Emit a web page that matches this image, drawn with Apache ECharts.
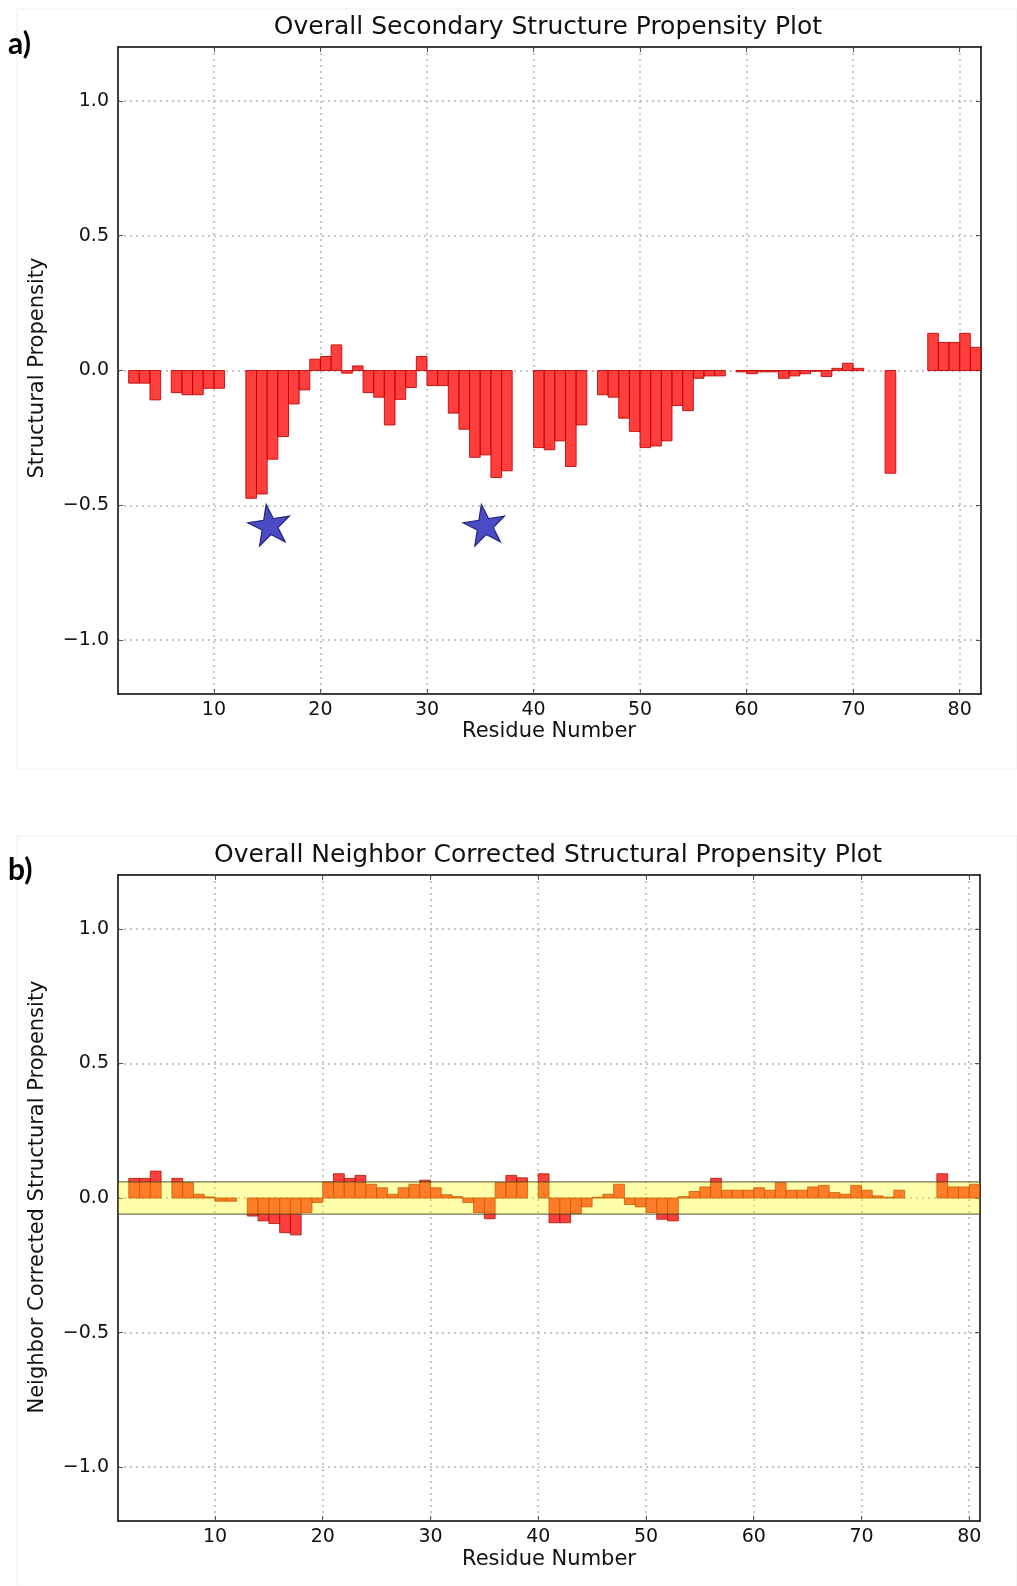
<!DOCTYPE html>
<html>
<head>
<meta charset="utf-8">
<script src="https://cdn.jsdelivr.net/npm/echarts@6/dist/echarts.min.js"></script>
<style>
html,body{margin:0;padding:0;background:#fff;}
#chart{width:1017px;height:1586px;}
</style>
</head>
<body>
<div id="chart"></div>
<script>
// ---------- Data ----------
const titleA = 'Overall Secondary Structure Propensity Plot';
const titleB = 'Overall Neighbor Corrected Structural Propensity Plot';
const xLabel = 'Residue Number';
const yLabelA = 'Structural Propensity';
const yLabelB = 'Neighbor Corrected Structural Propensity';

const xTicks = [10, 20, 30, 40, 50, 60, 70, 80];
const yTicks = [-1.0, -0.5, 0.0, 0.5, 1.0];

const residuesA = [2,3,4,5,6,7,8,9,10,11,12,13,14,15,16,17,18,19,20,21,22,23,24,25,26,27,28,29,30,31,32,33,34,35,36,37,38,39,40,41,42,43,44,45,46,47,48,49,50,51,52,53,54,55,56,57,58,59,60,61,62,63,64,65,66,67,68,69,70,71,72,73,74,75,76,77,78,79,80,81];
const propensityA = [
  -0.047,-0.047,-0.109,null,-0.082,-0.090,-0.090,-0.066,-0.066,null,
  null,-0.474,-0.458,-0.329,-0.245,-0.124,-0.072,0.042,0.052,0.095,
  -0.010,0.017,-0.082,-0.099,-0.202,-0.107,-0.063,0.052,-0.056,-0.056,
  -0.158,-0.218,-0.322,-0.313,-0.397,-0.372,null,null,-0.286,-0.294,
  -0.261,-0.356,-0.202,null,-0.090,-0.099,-0.177,-0.226,-0.286,-0.280,
  -0.261,-0.130,-0.149,-0.029,-0.020,-0.020,null,-0.005,-0.012,-0.005,
  -0.005,-0.029,-0.020,-0.012,-0.003,-0.022,0.008,0.027,0.008,null,
  null,-0.381,null,null,null,0.138,0.104,0.104,0.138,0.086
];

const residuesB = [2,3,4,5,6,7,8,9,10,11,12,13,14,15,16,17,18,19,20,21,22,23,24,25,26,27,28,29,30,31,32,33,34,35,36,37,38,39,40,41,42,43,44,45,46,47,48,49,50,51,52,53,54,55,56,57,58,59,60,61,62,63,64,65,66,67,68,69,70,71,72,73,74,75,76,77,78,79,80];
const propensityB = [
  0.073,0.073,0.100,null,0.073,0.057,0.014,0.004,-0.012,-0.012,
  null,-0.067,-0.085,-0.095,-0.129,-0.137,-0.054,-0.017,0.059,0.090,
  0.073,0.084,0.051,0.038,0.014,0.038,0.051,0.066,0.038,0.012,
  0.005,-0.017,-0.054,-0.077,0.057,0.084,0.075,null,0.090,-0.092,
  -0.092,-0.058,-0.033,0.003,0.014,0.051,-0.024,-0.033,-0.054,-0.079,
  -0.085,0.005,0.024,0.041,0.073,0.029,0.029,0.029,0.038,0.029,
  0.057,0.029,0.029,0.041,0.047,0.020,0.014,0.047,0.029,0.008,
  0.003,0.029,null,null,null,0.090,0.041,0.041,0.051
];

const bandHalfWidth = 0.06;      // shaded band in panel b (+/-)
const starX = [15.2, 35.4];      // star markers in panel a
const starY = [-0.57, -0.57];
const barWidthUnits = 1;         // each bar spans one residue

// ---------- Build ----------
function toPairs(xs, ys){
  const out = [];
  xs.forEach((x,i)=>{ if (ys[i] !== null && ys[i] !== undefined) out.push([x, ys[i]]); });
  return out;
}
const FONT = 'DejaVu Sans';
const fmtY = v => (v < 0 ? '\u2212' : '') + Math.abs(v).toFixed(1);

function barRenderer(fill, stroke){
  return function(params, api){
    const x = api.value(0), v = api.value(1);
    const p0 = api.coord([x, 0]);
    const p1 = api.coord([x + barWidthUnits, v]);
    return {
      type: 'rect',
      shape: {x: p0[0], y: Math.min(p0[1], p1[1]), width: p1[0]-p0[0], height: Math.abs(p1[1]-p0[1])},
      style: {fill: fill, stroke: stroke, lineWidth: 1}
    };
  };
}

function makeX(gridIndex, min, max, pos){
  const bottom = pos === 'bottom';
  return {
    type: 'value', gridIndex, min, max, position: pos,
    axisLine: {show: true, onZero: false, lineStyle: {color: '#000', width: 1.5}},
    axisTick: {show: true, inside: true, length: 5, customValues: xTicks, lineStyle: {color: '#555'}},
    axisLabel: {show: bottom, customValues: xTicks, fontSize: 19, fontFamily: FONT, color: '#111', margin: 7},
    splitLine: {show: bottom, lineStyle: {color: '#b5b5b5', type: [2, 4], width: 1.5}}
  };
}
function makeY(gridIndex, pos){
  const left = pos === 'left';
  return {
    type: 'value', gridIndex, min: -1.2, max: 1.2, position: pos,
    axisLine: {show: true, onZero: false, lineStyle: {color: '#000', width: 1.5}},
    axisTick: {show: true, inside: true, length: 5, customValues: yTicks, lineStyle: {color: '#555'}},
    axisLabel: {show: left, customValues: yTicks, fontSize: 19, fontFamily: FONT, color: '#111', margin: 9, formatter: fmtY},
    splitLine: {show: left, lineStyle: {color: '#b5b5b5', type: [2, 4], width: 1.5}}
  };
}

const starPath = 'path://M50,0 L61.2,34.5 L97.6,34.5 L68.2,55.9 L79.4,90.5 L50,69.1 L20.6,90.5 L31.8,55.9 L2.4,34.5 L38.8,34.5 Z';

const option = {
  backgroundColor: '#fff',
  animation: false,
  grid: [
    {left: 118, top: 47, width: 863, height: 647, show: false},
    {left: 118, top: 875, width: 862, height: 646, show: false}
  ],
  xAxis: [
    makeX(0, 1, 82, 'bottom'), makeX(0, 1, 82, 'top'),
    makeX(1, 1, 81, 'bottom'), makeX(1, 1, 81, 'top')
  ],
  yAxis: [
    makeY(0, 'left'), makeY(0, 'right'),
    makeY(1, 'left'), makeY(1, 'right')
  ],
  series: [
    {
      type: 'custom', xAxisIndex: 0, yAxisIndex: 0, z: 3,
      data: toPairs(residuesA, propensityA),
      encode: {x: 0, y: 1},
      renderItem: barRenderer('rgba(255,20,20,0.82)', 'rgba(190,0,0,0.85)')
    },
    {
      type: 'scatter', xAxisIndex: 0, yAxisIndex: 0, z: 5,
      data: starX.map((x,i)=>[x, starY[i]]),
      symbol: starPath, symbolSize: [42, 40], symbolRotate: 9,
      itemStyle: {color: '#4b4bc6', borderColor: '#25257a', borderWidth: 1.2, opacity: 1}
    },
    {
      type: 'custom', xAxisIndex: 2, yAxisIndex: 2, z: 3,
      data: toPairs(residuesB, propensityB),
      encode: {x: 0, y: 1},
      renderItem: barRenderer('rgba(255,20,20,0.82)', 'rgba(170,20,0,0.8)')
    },
    {
      type: 'custom', xAxisIndex: 2, yAxisIndex: 2, z: 4,
      data: [[bandHalfWidth]],
      renderItem: function(params, api){
        const h = api.value(0);
        const p0 = api.coord([1, h]);
        const p1 = api.coord([81, -h]);
        return {
          type: 'rect',
          shape: {x: p0[0], y: p0[1], width: p1[0]-p0[0], height: p1[1]-p0[1]},
          style: {fill: 'rgba(255,255,0,0.33)', stroke: 'rgba(60,60,30,0.7)', lineWidth: 1.2}
        };
      }
    }
  ],
  graphic: [
    {type: 'rect', shape: {x: 17, y: 9, width: 1000, height: 760}, style: {fill: 'none', stroke: '#efefef', lineWidth: 1}, z: -1},
    {type: 'rect', shape: {x: 17, y: 836, width: 1000, height: 750}, style: {fill: 'none', stroke: '#efefef', lineWidth: 1}, z: -1},
    {type: 'text', x: 8, y: 44, style: {text: 'a)', font: 'bold 30px Lato', fill: '#000', textAlign: 'left', textVerticalAlign: 'middle'}},
    {type: 'text', x: 8, y: 870, style: {text: 'b)', font: 'bold 30px Lato', fill: '#000', textAlign: 'left', textVerticalAlign: 'middle'}},
    {type: 'text', x: 548, y: 27, style: {text: titleA, font: '25px "DejaVu Sans"', fill: '#111', textAlign: 'center', textVerticalAlign: 'middle'}},
    {type: 'text', x: 548, y: 855, style: {text: titleB, font: '25px "DejaVu Sans"', fill: '#111', textAlign: 'center', textVerticalAlign: 'middle'}},
    {type: 'text', x: 549, y: 732, style: {text: xLabel, font: '21px "DejaVu Sans"', fill: '#111', textAlign: 'center', textVerticalAlign: 'middle'}},
    {type: 'text', x: 549, y: 1560, style: {text: xLabel, font: '21px "DejaVu Sans"', fill: '#111', textAlign: 'center', textVerticalAlign: 'middle'}},
    {type: 'text', x: 38, y: 368, rotation: Math.PI/2, style: {text: yLabelA, font: '21px "DejaVu Sans"', fill: '#111', textAlign: 'center', textVerticalAlign: 'middle'}},
    {type: 'text', x: 38, y: 1197, rotation: Math.PI/2, style: {text: yLabelB, font: '21px "DejaVu Sans"', fill: '#111', textAlign: 'center', textVerticalAlign: 'middle'}}
  ]
};

const chart = echarts.init(document.getElementById('chart'), null, {renderer: 'canvas'});
chart.setOption(option);
</script>
</body>
</html>
